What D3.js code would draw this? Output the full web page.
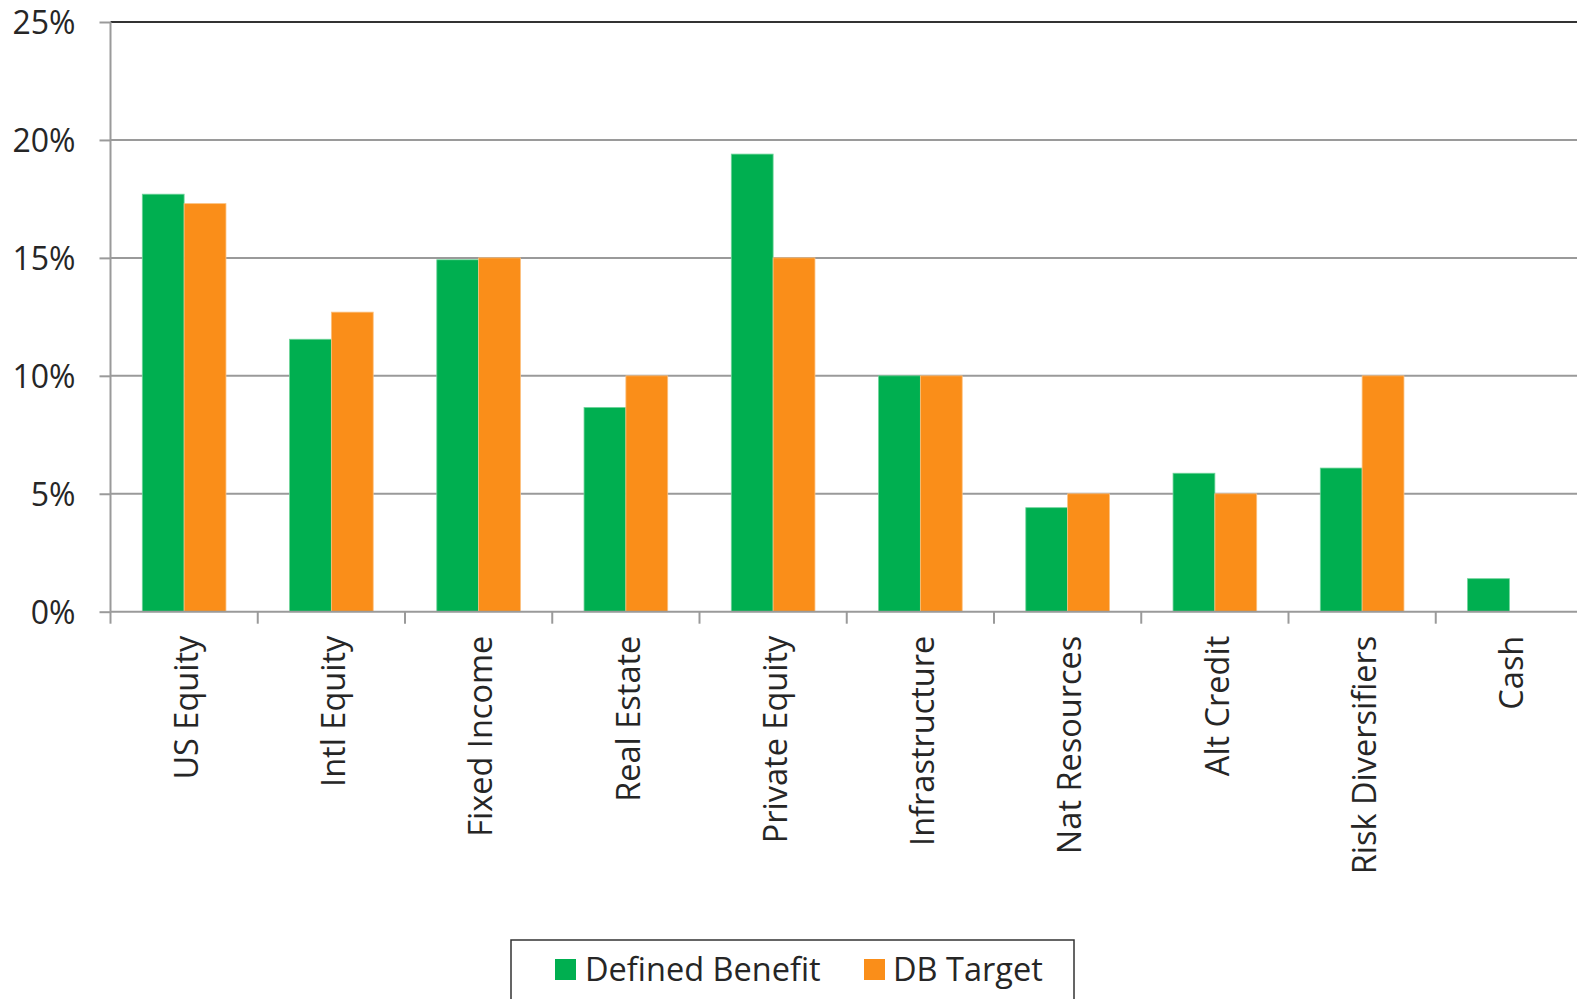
<!DOCTYPE html>
<html>
<head>
<meta charset="utf-8">
<script src="https://cdn.jsdelivr.net/npm/d3@7"></script>
<style>
  html, body { margin: 0; padding: 0; background: #fff; }
  svg { display: block; font-family: "Open Sans", sans-serif; }
</style>
</head>
<body>
<svg id="chart" width="1577" height="999"></svg>
<script>
const categories = ["US Equity", "Intl Equity", "Fixed Income", "Real Estate", "Private Equity",
  "Infrastructure", "Nat Resources", "Alt Credit", "Risk Diversifiers", "Cash"];
const seriesNames = ["Defined Benefit", "DB Target"];
const definedBenefit = [17.7, 11.55, 14.92, 8.66, 19.4, 10.0, 4.41, 5.87, 6.09, 1.4];
const dbTarget = [17.3, 12.7, 15.0, 10.0, 15.0, 10.0, 5.0, 5.0, 10.0, 0];
const yTicks = [0, 5, 10, 15, 20, 25];
const colors = ["#00AF50", "#FA8E19"];

(function () {
const svg = d3.select("#chart");
const mLeft = 110.5, mRight = 1583, mTop = 22, mBottom = 611.7;

const x0 = d3.scaleBand().domain(categories).range([mLeft, mRight]).paddingInner(0).paddingOuter(0);
const x1 = d3.scaleBand().domain(seriesNames).range([0, x0.bandwidth()]).paddingInner(0).paddingOuter(0.76);
const y = d3.scaleLinear().domain([0, 25]).range([mBottom, mTop]);

const textColor = "#262626";
const gridColor = "#9a9a9a";

// gridlines
svg.append("g").selectAll("line").data(yTicks.filter(d => d > 0 && d < 25)).join("line")
  .attr("x1", mLeft).attr("x2", mRight)
  .attr("y1", d => y(d)).attr("y2", d => y(d))
  .attr("stroke", gridColor).attr("stroke-width", 2);

// top border line
svg.append("line").attr("x1", mLeft).attr("x2", mRight).attr("y1", y(25)).attr("y2", y(25))
  .attr("stroke", "#333").attr("stroke-width", 2);

// bars
const data = categories.map((c, i) => ({ cat: c, vals: [definedBenefit[i], dbTarget[i]] }));
const groups = svg.append("g").selectAll("g").data(data).join("g")
  .attr("transform", d => `translate(${x0(d.cat)},0)`);
groups.selectAll("rect").data(d => d.vals.map((v, j) => ({ v, s: seriesNames[j], j })).filter(e => e.v > 0))
  .join("rect")
  .attr("x", e => x1(e.s))
  .attr("width", x1.bandwidth())
  .attr("y", e => y(e.v))
  .attr("height", e => y(0) - y(e.v))
  .attr("fill", e => colors[e.j])
  .attr("stroke", e => e.j === 0 ? "#6fd49a" : "#fcc07f")
  .attr("stroke-width", 0.8);

// y axis
const yAxis = d3.axisLeft(y).tickValues(yTicks).tickFormat(d => d + "%").tickSize(11).tickPadding(24);
const gy = svg.append("g").attr("transform", `translate(${mLeft},0)`).call(yAxis);
gy.select(".domain").attr("stroke", gridColor).attr("stroke-width", 2).attr("d", `M0,${mTop}V${mBottom}`);
gy.selectAll(".tick line").attr("stroke", gridColor).attr("stroke-width", 2);
gy.selectAll(".tick text").attr("fill", textColor).style("font-size", "32px")
  .style("font-family", "'Open Sans', sans-serif").attr("dy", "0.36em");

// x axis
const xAxis = d3.axisBottom(x0).tickSize(0).tickFormat("");
const gx = svg.append("g").attr("transform", `translate(0,${mBottom})`).call(xAxis);
gx.select(".domain").attr("stroke", gridColor).attr("stroke-width", 2).attr("d", `M${mLeft},0H${mRight}`);
const boundaries = categories.map(c => x0(c));
svg.append("g").selectAll("line").data(boundaries).join("line")
  .attr("x1", d => d).attr("x2", d => d)
  .attr("y1", mBottom).attr("y2", mBottom + 12)
  .attr("stroke", gridColor).attr("stroke-width", 2);

// category labels
svg.append("g").selectAll("text").data(categories).join("text")
  .attr("transform", d => `translate(${x0(d) + x0.bandwidth() / 2 + 2},${mBottom + 24}) rotate(-90)`)
  .attr("text-anchor", "end")
  .attr("dy", "0.36em")
  .attr("fill", textColor)
  .style("font-size", "32.5px")
  .text(d => d);

// legend
const lg = svg.append("g");
lg.append("rect").attr("x", 511).attr("y", 940).attr("width", 563).attr("height", 100)
  .attr("fill", "#fff").attr("stroke", "#333").attr("stroke-width", 1.5);
const legendItems = [
  { name: seriesNames[0], color: colors[0], sx: 555, tx: 585 },
  { name: seriesNames[1], color: colors[1], sx: 864, tx: 893 }
];
legendItems.forEach(it => {
  lg.append("rect").attr("x", it.sx).attr("y", 959).attr("width", 21).attr("height", 21).attr("fill", it.color);
  lg.append("text").attr("x", it.tx).attr("y", 969.5).attr("dy", "0.36em")
    .attr("fill", textColor).style("font-size", "32.5px").text(it.name);
});
})();
</script>
</body>
</html>
